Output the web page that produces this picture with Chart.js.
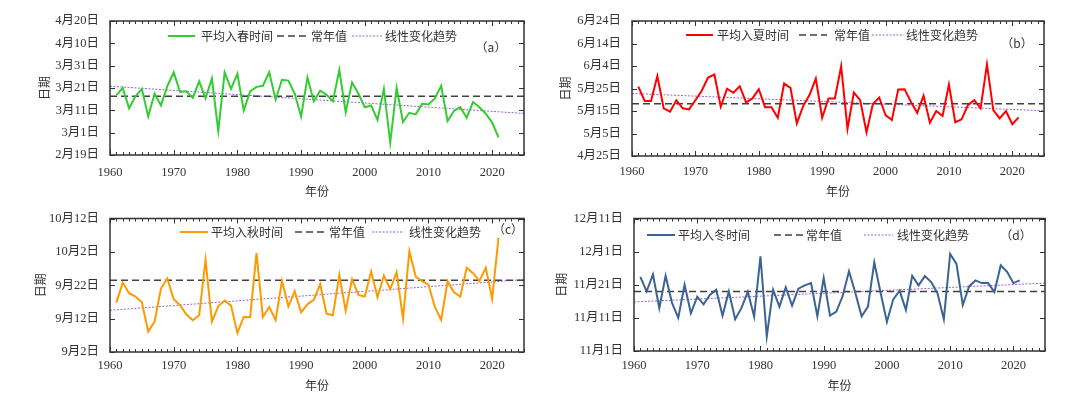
<!DOCTYPE html>
<html>
<head>
<meta charset="utf-8">
<script src="https://cdn.jsdelivr.net/npm/chart.js@4.4.1/dist/chart.umd.min.js"></script>
<style>
  body { margin: 0; background: #fff; width: 1080px; height: 393px; position: relative; overflow: hidden; }
  canvas { position: absolute; }
</style>
</head>
<body>
<canvas id="chartA" width="540" height="200" style="left:0;top:0"></canvas>
<canvas id="chartB" width="540" height="200" style="left:540px;top:0"></canvas>
<canvas id="chartC" width="540" height="193" style="left:0;top:200px"></canvas>
<canvas id="chartD" width="540" height="193" style="left:540px;top:200px"></canvas>
<script>
// years on the x axis
const years = [1961,1962,1963,1964,1965,1966,1967,1968,1969,1970,
  1971,1972,1973,1974,1975,1976,1977,1978,1979,1980,
  1981,1982,1983,1984,1985,1986,1987,1988,1989,1990,
  1991,1992,1993,1994,1995,1996,1997,1998,1999,2000,
  2001,2002,2003,2004,2005,2006,2007,2008,2009,2010,
  2011,2012,2013,2014,2015,2016,2017,2018,2019,2020,
  2021];
const xTicks = [1960, 1970, 1980, 1990, 2000, 2010, 2020];
const lineYears = [1960, 2025];

// season start dates, as day of year
const spring = [76.8,80,70.9,76.3,79.6,67.3,77.5,72.2,80.8,87,
  78.2,78.5,75.6,83,75.4,84.3,60.8,87,79.6,86.4,
  70,78.5,80.5,81,87,74.8,83.7,83.3,77.5,67.2,
  84.7,74.1,78.8,77,74.1,88.1,69.2,82.5,77.5,71.4,
  72.2,65.7,79.6,55.6,80,64.8,68.9,68.2,72.9,72.6,
  75.3,81,65.2,69.7,71.4,66.7,73.7,71.4,68.5,64.5,
  57.9];
const summer = [145.8,139.5,139.5,150.5,136.2,134.7,139.8,136.2,135.7,139.8,
  144,149.9,151.2,136.9,144.9,143.1,146,138.8,140.6,144.7,
  136.7,136.7,132,147.2,145.3,129.5,137.2,142.1,149.4,132,
  140.6,140.6,154.9,127,143.2,139.8,125.5,138.1,141,133.2,
  131,144.6,144.7,139.1,134.2,141.8,129.8,135,132.8,146.8,
  130,131.3,137.6,139.8,136.2,155.7,135.4,131.7,135,129.1,
  132.2];
const autumn = [259.8,265.8,262.6,261.6,259.9,251.1,254.1,264,267,260.8,
  259,256.2,254.5,256,272.6,254.1,258.7,260.4,258.9,250.7,
  255.5,255.4,274.6,255.5,258.5,254.6,266.3,258.7,263.2,256.9,
  259.3,260.6,265.3,256.5,256,268.1,257.4,266.8,262.1,261.6,
  269.1,261.4,267.9,263.8,268.9,255,275.2,267.6,266.2,265.2,
  258.5,254.6,266.2,262.9,261.6,270.2,268.6,266.3,270.2,260.9,
  279.3];
const winter = [327.4,323,328.1,317.9,327.7,319.6,315,325,316.4,321.4,
  319.1,321.9,323.5,315.7,323,314.6,318,322.9,315.4,333.6,
  309.4,323.5,318.4,324.2,318.7,323.8,324.8,325.5,315.5,327,
  315.7,316.9,321.6,329.1,322.6,315.5,318.4,331.8,322.6,313.8,
  320.6,323.2,317.4,327.7,324.8,327.6,325.8,322.4,314.6,334.3,
  331.3,318.9,324.5,326.3,325.5,325.5,322.8,330.9,328.9,325.5,
  326.3];

// normal value and trend line ends (1960, 2025)
const springNormal = 76.3, summerNormal = 138.2, autumnNormal = 266.5, winterNormal = 323.0;
const springTrend = [80.8, 68.6];
const summerTrend = [142.8, 135.1];
const autumnTrend = [257.5, 266.7];
const winterTrend = [319.8, 325.5];

// y ticks
const springTicks = [50, 60, 70, 80, 90, 100, 110];
const springLabels = ['2月19日','3月1日','3月11日','3月21日','3月31日','4月10日','4月20日'];
const summerTicks = [115, 125, 135, 145, 155, 165, 175];
const summerLabels = ['4月25日','5月5日','5月15日','5月25日','6月4日','6月14日','6月24日'];
const autumnTicks = [245, 255, 265, 275, 285];
const autumnLabels = ['9月2日','9月12日','9月22日','10月2日','10月12日'];
const winterTicks = [305, 315, 325, 335, 345];
const winterLabels = ['11月1日','11月11日','11月21日','12月1日','12月11日'];

const tickFont = { family: '"Liberation Serif", "Noto Sans CJK SC", serif', size: 12.5 };
const cjkFont = { family: '"Noto Sans CJK SC", sans-serif', size: 12 };
const txt = '#333';

const framePlugin = {
  id: 'frame',
  afterDraw(chart, args, o) {
    const { ctx, chartArea: a, scales: { x, y } } = chart;
    ctx.save();
    ctx.strokeStyle = '#333';
    ctx.lineWidth = 1;
    const seg = (x1, y1, x2, y2) => { ctx.beginPath(); ctx.moveTo(x1, y1); ctx.lineTo(x2, y2); ctx.stroke(); };
    for (let yr = x.min; yr <= x.max; yr++) {
      const px = Math.round(x.getPixelForValue(yr)) + 0.5;
      const len = yr % 10 === 0 ? 5 : 3;
      seg(px, a.bottom, px, a.bottom - len);
      seg(px, a.top, px, a.top + len);
    }
    y.ticks.forEach(t => {
      const py = Math.round(y.getPixelForValue(t.value)) + 0.5;
      seg(a.left, py, a.left + 5, py);
      seg(a.right, py, a.right - 5, py);
    });
    ctx.lineWidth = 1.5;
    ctx.strokeRect(a.left, a.top, a.right - a.left, a.bottom - a.top);

    // legend inside the plot
    ctx.font = '12px "Noto Sans CJK SC", sans-serif';
    ctx.textBaseline = 'middle';
    ctx.fillStyle = txt;
    o.items.forEach((it, i) => {
      const ds = chart.data.datasets[i];
      ctx.strokeStyle = ds.borderColor;
      ctx.lineWidth = ds.borderWidth;
      ctx.setLineDash(ds.borderDash || []);
      seg(it[0], o.y, it[1], o.y);
      ctx.setLineDash([]);
      ctx.textAlign = 'left';
      ctx.fillText(o.labels[i], it[2], o.y);
    });
    ctx.textAlign = 'center';
    ctx.fillText(o.tag, o.tagX, o.tagY);
    ctx.restore();
  }
};

function makeChart(id, p) {
  const cv = document.getElementById(id);
  const W = cv.width, H = cv.height;
  return new Chart(cv, {
    type: 'line',
    data: {
      datasets: [
        { data: years.map((yr, i) => ({ x: yr, y: p.values[i] })), borderColor: p.color, borderWidth: 2, pointRadius: 0, tension: 0 },
        { data: lineYears.map(yr => ({ x: yr, y: p.normal })), borderColor: '#404040', borderWidth: 1.5, borderDash: [7, 4], pointRadius: 0 },
        { data: lineYears.map((yr, i) => ({ x: yr, y: p.trend[i] })), borderColor: '#9b5fd8', borderWidth: 1, borderDash: [2, 1.5], pointRadius: 0 }
      ]
    },
    options: {
      responsive: false,
      animation: false,
      layout: { padding: { left: 0, right: W - p.area[1], top: p.area[2], bottom: 0 } },
      plugins: {
        legend: { display: false },
        tooltip: { enabled: false },
        frame: p.legend
      },
      scales: {
        x: {
          type: 'linear', min: 1960, max: 2025,
          afterBuildTicks: s => { s.ticks = xTicks.map(v => ({ value: v })); },
          afterFit: s => { s.height = H - p.area[3]; },
          grid: { display: false, drawTicks: false },
          border: { display: false },
          ticks: { font: tickFont, color: txt, padding: p.xPad, maxRotation: 0, callback: v => String(v) },
          title: { display: true, text: '年份', font: cjkFont, color: txt, padding: p.xTitlePad }
        },
        y: {
          type: 'linear', min: p.ticks[0], max: p.ticks[p.ticks.length - 1],
          afterBuildTicks: s => { s.ticks = p.ticks.map(v => ({ value: v })); },
          afterFit: s => { s.width = p.area[0]; },
          grid: { display: false, drawTicks: false },
          border: { display: false },
          ticks: { font: tickFont, color: txt, padding: 11, callback: v => p.labels[p.ticks.indexOf(v)] },
          title: { display: true, text: '日期', font: cjkFont, color: txt, padding: p.yTitlePad }
        }
      }
    },
    plugins: [framePlugin]
  });
}

makeChart('chartA', {
  values: spring, normal: springNormal, trend: springTrend, color: '#33cc33',
  ticks: springTicks, labels: springLabels,
  area: [110, 524, 21, 155], xPad: 10, xTitlePad: 1, yTitlePad: 37,
  legend: { y: 36, items: [[168, 195, 201], [277, 309, 311], [352, 383, 385]],
    labels: ['平均入春时间', '常年值', '线性变化趋势'], tag: '（a）', tagX: 491, tagY: 47 }
});
makeChart('chartB', {
  values: summer, normal: summerNormal, trend: summerTrend, color: '#ff0000',
  ticks: summerTicks, labels: summerLabels,
  area: [92, 504, 21, 156], xPad: 8.5, xTitlePad: 1, yTitlePad: 18,
  legend: { y: 35, items: [[146, 173, 177], [259, 287, 294], [332, 364, 366]],
    labels: ['平均入夏时间', '常年值', '线性变化趋势'], tag: '（b）', tagX: 477, tagY: 43 }
});
makeChart('chartC', {
  values: autumn, normal: autumnNormal, trend: autumnTrend, color: '#ff9900',
  ticks: autumnTicks, labels: autumnLabels,
  area: [110, 524, 15, 152], xPad: 6.5, xTitlePad: 0, yTitlePad: 33,
  legend: { y: 32, items: [[180, 208, 211], [295, 327, 329], [372, 404, 409]],
    labels: ['平均入秋时间', '常年值', '线性变化趋势'], tag: '（c）', tagX: 508, tagY: 29 }
});
makeChart('chartD', {
  values: winter, normal: winterNormal, trend: winterTrend, color: '#3a6494',
  ticks: winterTicks, labels: winterLabels,
  area: [94, 505, 16, 151], xPad: 7.5, xTitlePad: 0, yTitlePad: 14,
  legend: { y: 35, items: [[107, 135, 138], [234, 263, 266], [324, 353, 357]],
    labels: ['平均入冬时间', '常年值', '线性变化趋势'], tag: '（d）', tagX: 476, tagY: 35 }
});
</script>
</body>
</html>
